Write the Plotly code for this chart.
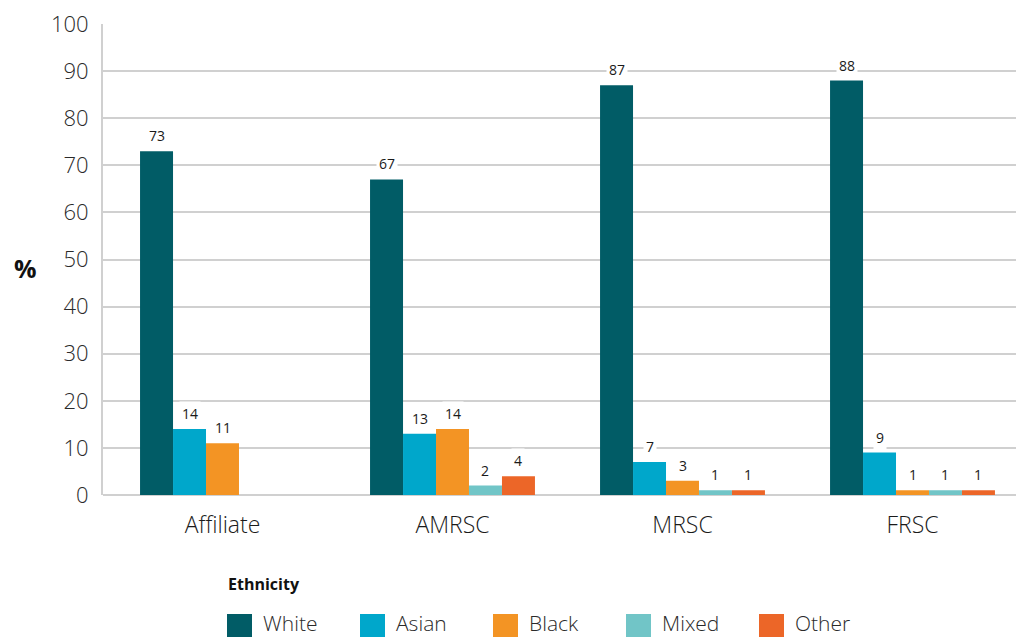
import plotly.graph_objects as go

# Membership grade categories
categories = ["Affiliate", "AMRSC", "MRSC", "FRSC"]

# Ethnicity shares (%) per grade
series_names = ["White", "Asian", "Black", "Mixed", "Other"]
white = [73, 67, 87, 88]
asian = [14, 13, 7, 9]
black = [11, 14, 3, 1]
mixed = [None, 2, 1, 1]
other = [None, 4, 1, 1]
series_values = [white, asian, black, mixed, other]

colors = ["#015c66", "#00a7cb", "#f39424", "#71c5c7", "#ec6628"]

y_ticks = list(range(0, 101, 10))

FONT = "Open Sans"
TEXT_COL = "#2a2a2a"

# Layout geometry (pixels)
W, H = 1016, 637
M_L, M_R, M_T, M_B = 103, 0, 24, 142
PLOT_W = W - M_L - M_R
PLOT_H = H - M_T - M_B
CAT_PX = 230.0
FIRST_CAT_PX = 222.5
bargap = 0.283
n_series = len(series_names)
bar_w = (1 - bargap) / n_series

x_lo = -(FIRST_CAT_PX - M_L) / CAT_PX
x_hi = x_lo + PLOT_W / CAT_PX

xs = list(range(len(categories)))

fig = go.Figure()
for name, vals, col in zip(series_names, series_values, colors):
    fig.add_trace(go.Bar(
        x=xs, y=vals, name=name, marker=dict(color=col, line=dict(width=0)),
        showlegend=False, hoverinfo="x+y+name",
    ))

# Value labels with white backing so they sit cleanly over gridlines
annotations = []
for i, vals in enumerate(series_values):
    for j, v in enumerate(vals):
        if v is None:
            continue
        annotations.append(dict(
            x=xs[j] + (i - (n_series - 1) / 2) * bar_w, y=v, xref="x", yref="y",
            text=str(v), showarrow=False, yanchor="bottom", yshift=3,
            font=dict(family=FONT, size=14, color="#1a1a1a"),
            bgcolor="white", borderpad=2,
        ))


def px_x(px):
    return (px - M_L) / PLOT_W


def px_y(py):
    return (H - M_B - py) / PLOT_H


# Y axis title
annotations.append(dict(
    x=px_x(25), y=px_y(268), xref="paper", yref="paper", text="<b>%</b>",
    showarrow=False, font=dict(family=FONT, size=25, color="#111111"),
    xanchor="center", yanchor="middle",
))

# Legend block drawn underneath the axis
annotations.append(dict(
    x=px_x(226), y=px_y(584), xref="paper", yref="paper", text="<b>Ethnicity</b>",
    showarrow=False, font=dict(family=FONT, size=16, color="#111111"),
    xanchor="left", yanchor="middle",
))
shapes = []
LEG_X0, LEG_STEP, SW = 227, 133, 25
for k, (name, col) in enumerate(zip(series_names, colors)):
    x0 = LEG_X0 + k * LEG_STEP
    shapes.append(dict(
        type="rect", xref="paper", yref="paper",
        x0=px_x(x0), x1=px_x(x0 + SW), y0=px_y(614), y1=px_y(614 + SW),
        fillcolor=col, line=dict(width=0), layer="above",
    ))
    annotations.append(dict(
        x=px_x(x0 + SW + 9), y=px_y(623), xref="paper", yref="paper", text=name,
        showarrow=False, font=dict(family=FONT, size=21, color=TEXT_COL, weight=300),
        xanchor="left", yanchor="middle",
    ))

fig.update_layout(
    width=W, height=H,
    margin=dict(l=M_L, r=M_R, t=M_T, b=M_B, pad=0),
    paper_bgcolor="white", plot_bgcolor="white",
    barmode="group", bargap=bargap, bargroupgap=0,
    font=dict(family=FONT, color=TEXT_COL),
    annotations=annotations, shapes=shapes,
    showlegend=False,
)
fig.update_xaxes(
    range=[x_lo, x_hi], tickvals=xs, ticktext=categories,
    showgrid=False, zeroline=False, showline=False,
    ticks="", ticklabelstandoff=14,
    tickfont=dict(family=FONT, size=23, color="#1a1a1a", weight=300),
)
fig.update_yaxes(
    range=[0, 100], tickvals=y_ticks, showgrid=True,
    gridcolor="#d0d0d0", gridwidth=1.5, zeroline=True, zerolinecolor="#d0d0d0",
    zerolinewidth=2, showline=True, linecolor="#d0d0d0", linewidth=2,
    ticks="", ticklabelstandoff=8,
    tickfont=dict(family=FONT, size=22, color=TEXT_COL, weight=300),
)

fig.write_html("out.html")
